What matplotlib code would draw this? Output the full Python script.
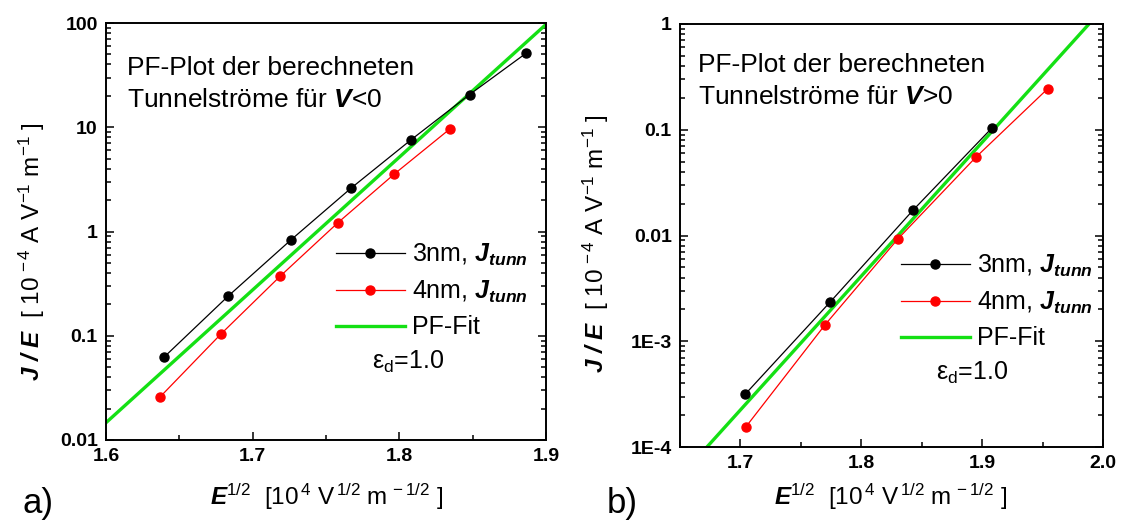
import matplotlib
matplotlib.use("Agg")
import matplotlib.pyplot as plt
from matplotlib.ticker import FixedLocator, FixedFormatter, LogLocator, MultipleLocator, NullFormatter

plt.rcParams['font.family'] = ['Liberation Sans', 'DejaVu Sans']
plt.rcParams['mathtext.fontset'] = 'custom'
plt.rcParams['mathtext.rm'] = 'Liberation Sans'
plt.rcParams['mathtext.it'] = 'Liberation Sans:italic'
plt.rcParams['mathtext.bf'] = 'Liberation Sans:bold:italic'

# ---- panel a: V < 0 ----
a_x_3nm = [1.6394, 1.6833, 1.7259, 1.7673, 1.8082, 1.8479, 1.8866]
a_y_3nm = [0.062, 0.240, 0.826, 2.62, 7.62, 20.6, 51.5]
a_x_4nm = [1.6370, 1.6784, 1.7188, 1.7580, 1.7967, 1.8345]
a_y_4nm = [0.026, 0.104, 0.373, 1.21, 3.57, 9.64]
a_fit_x = [1.600, 1.900]
a_fit_y = [0.01466, 97.0]
a_yticks = [0.01, 0.1, 1, 10, 100]
a_yticklabels = ['0.01', '0.1', '1', '10', '100']
a_xticks = [1.6, 1.7, 1.8, 1.9]
a_xticklabels = ['1.6', '1.7', '1.8', '1.9']

# ---- panel b: V > 0 ----
b_x_3nm = [1.7039, 1.7744, 1.8429, 1.9083]
b_y_3nm = [3.15e-4, 2.36e-3, 0.0174, 0.1045]
b_x_4nm = [1.7042, 1.7702, 1.8301, 1.8946, 1.9542]
b_y_4nm = [1.535e-4, 1.44e-3, 9.23e-3, 0.0547, 0.244]
b_fit_x = [1.6723, 1.9884]
b_fit_y = [1e-4, 1.0]
b_yticks = [1e-4, 1e-3, 0.01, 0.1, 1]
b_yticklabels = ['1E-4', '1E-3', '0.01', '0.1', '1']
b_xticks = [1.7, 1.8, 1.9, 2.0]
b_xticklabels = ['1.7', '1.8', '1.9', '2.0']

legend_labels = [r"3nm, $\mathbf{J}_{\mathbf{tunn}}$",
                 r"4nm, $\mathbf{J}_{\mathbf{tunn}}$",
                 "PF-Fit"]

W, H = 1125, 521
GREEN = '#14e014'


def fx(x):
    return x / W


def fy(y):
    return 1 - y / H


fig = plt.figure(figsize=(W / 100, H / 100), dpi=100)
axA = fig.add_axes([fx(106), fy(440), 440 / W, 417 / H])
axB = fig.add_axes([fx(680), fy(447), 423 / W, 423 / H])


def style_axes(ax, xlim, ylim, xticks, xlabels, yticks, ylabels, minor_x):
    ax.set_yscale('log')
    ax.set_xlim(*xlim)
    ax.set_ylim(*ylim)
    ax.xaxis.set_major_locator(FixedLocator(xticks))
    ax.xaxis.set_major_formatter(FixedFormatter(xlabels))
    ax.xaxis.set_minor_locator(MultipleLocator(minor_x))
    ax.yaxis.set_major_locator(FixedLocator(yticks))
    ax.yaxis.set_major_formatter(FixedFormatter(ylabels))
    ax.yaxis.set_minor_locator(LogLocator(base=10, subs=range(2, 10), numticks=20))
    ax.yaxis.set_minor_formatter(NullFormatter())
    ax.tick_params(which='both', direction='in', top=False, right=True,
                   bottom=True, left=True, width=1.1)
    ax.tick_params(which='major', length=6, labelsize=14, pad=6)
    ax.tick_params(which='minor', length=3.5)
    for lab in ax.get_xticklabels() + ax.get_yticklabels():
        lab.set_fontweight('bold')
    for sp in ax.spines.values():
        sp.set_linewidth(1.4)


def draw_panel(ax, x3, y3, x4, y4, fx_, fy_):
    h1, = ax.plot(x3, y3, '-o', color='black', lw=0.9, ms=6.5, zorder=3)
    h2, = ax.plot(x4, y4, '-o', color='#ff0000', lw=0.9, ms=6.5, zorder=3)
    h3, = ax.plot(fx_, fy_, '-', color=GREEN, lw=2.4, zorder=2)
    return [h1, h2, h3]


hA = draw_panel(axA, a_x_3nm, a_y_3nm, a_x_4nm, a_y_4nm, a_fit_x, a_fit_y)
hB = draw_panel(axB, b_x_3nm, b_y_3nm, b_x_4nm, b_y_4nm, b_fit_x, b_fit_y)

style_axes(axA, (1.6, 1.9), (0.01, 100), a_xticks, a_xticklabels,
           a_yticks, a_yticklabels, 0.05)
style_axes(axB, (1.65, 2.0), (1e-4, 1), b_xticks, b_xticklabels,
           b_yticks, b_yticklabels, 0.05)

# legends
for ax, handles, (lx, ly) in [(axA, hA, (336, 242)), (axB, hB, (901, 253))]:
    ax.legend(handles, legend_labels, loc='upper left',
              bbox_to_anchor=(fx(lx), fy(ly)), bbox_transform=fig.transFigure,
              frameon=False, fontsize=18, borderpad=0, borderaxespad=0,
              handlelength=2.75, handletextpad=0.3, labelspacing=0.42,
              markerscale=1.0)

# annotations
txt = dict(fontsize=19, ha='left', va='center')
fig.text(fx(127), fy(68), "PF-Plot der berechneten", **txt)
fig.text(fx(127), fy(100), r"Tunnelströme für $\mathbf{V}$<0", **txt)
fig.text(fx(698), fy(65), "PF-Plot der berechneten", **txt)
fig.text(fx(698), fy(97), r"Tunnelströme für $\mathbf{V}$>0", **txt)

fig.text(fx(372), fy(362), r"ε$_\mathrm{d}$=1.0", fontsize=18, ha='left', va='center')
fig.text(fx(936), fy(373), r"ε$_\mathrm{d}$=1.0", fontsize=18, ha='left', va='center')

# axis labels
ylab = r"$\mathbf{J\ /\ E}$  [ 10$^{\,-4}$ A V$^{-1}$ m$^{-1}$ ]"
xlab = r"$\mathbf{E}^{1/2}$  [10$^{\,4}$ V$^{\,1/2}$ m$^{\,-1/2}$ ]"
fig.text(fx(32), fy(252), ylab, rotation=90, fontsize=17.5, ha='center', va='center')
fig.text(fx(596), fy(244), ylab, rotation=90, fontsize=17.5, ha='center', va='center')
fig.text(fx(327), fy(497), xlab, fontsize=17.5, ha='center', va='center')
fig.text(fx(891), fy(497), xlab, fontsize=17.5, ha='center', va='center')

# panel tags
fig.text(fx(22), fy(503), "a)", fontsize=25, ha='left', va='center')
fig.text(fx(607), fy(503), "b)", fontsize=25, ha='left', va='center')

fig.savefig("out.png", dpi=100)
